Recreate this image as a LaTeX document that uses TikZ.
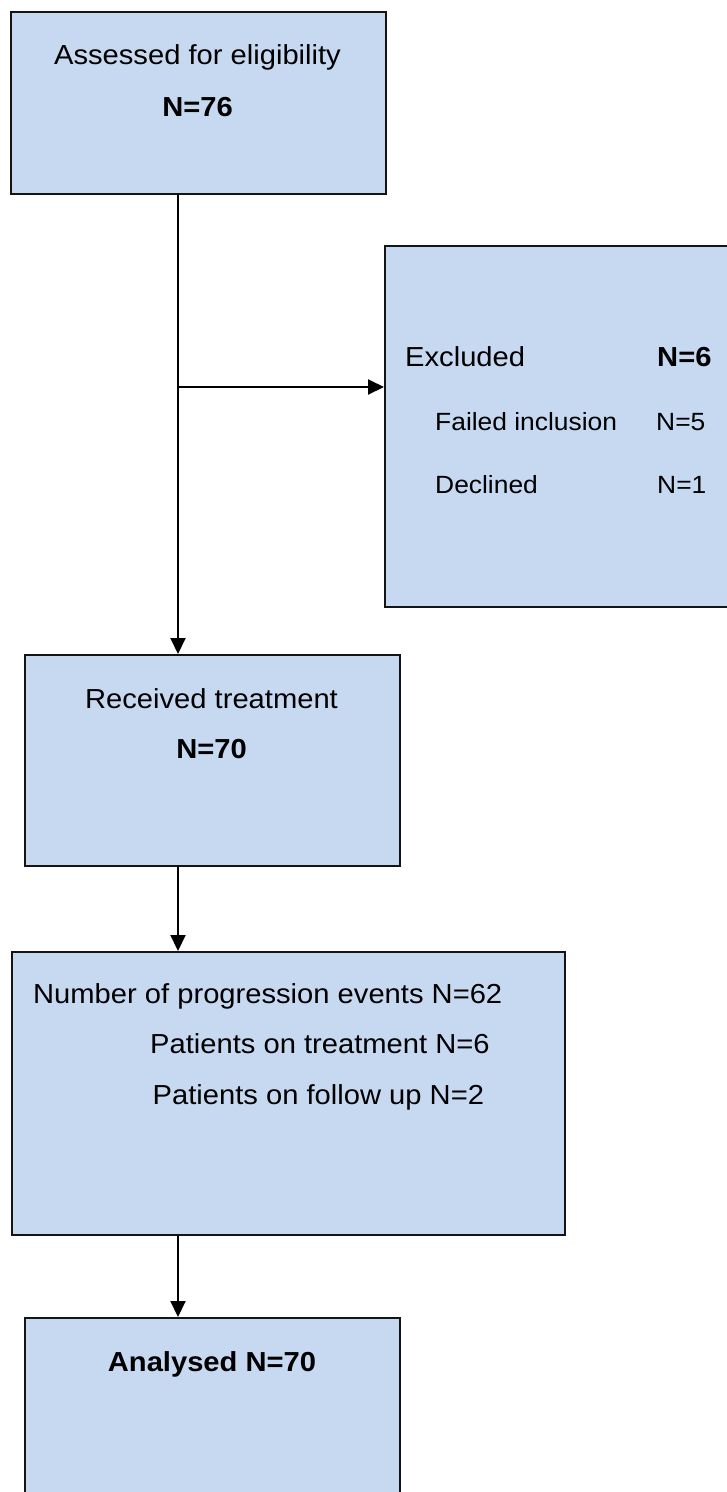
\documentclass[tikz,border=0pt]{standalone}
\usepackage{fontspec}
\setmainfont{Liberation Sans}[FakeStretch=1.06]
\usetikzlibrary{arrows.meta}
\definecolor{boxfill}{HTML}{C6D9F1}
\definecolor{edgecol}{HTML}{141414}
\begin{document}
\begin{tikzpicture}[x=1pt,y=-1pt,
  flowbox/.style={draw=edgecol, line width=2pt, fill=boxfill, inner sep=0pt, anchor=north west},
  bigtxt/.style={inner sep=0pt, font=\fontsize{27.5}{31}\selectfont},
  smalltxt/.style={inner sep=0pt, font=\fontsize{24.9}{28}\selectfont},
  flowarrow/.style={draw=black, line width=2pt, -{Triangle[length=16pt,width=15pt]}}
]
\useasboundingbox (0,0) rectangle (727,1492);
\clip (0,0) rectangle (727,1492);
\fill[white] (0,0) rectangle (727,1492);

% boxes
\node[flowbox, minimum width=375pt, minimum height=182pt] (b1) at (10,11) {};
\node[flowbox, minimum width=350pt, minimum height=361pt] (b2) at (384,245) {};
\node[flowbox, minimum width=375pt, minimum height=211pt] (b3) at (24,654) {};
\node[flowbox, minimum width=553pt, minimum height=283pt] (b4) at (11,951) {};
\node[flowbox, minimum width=375pt, minimum height=190pt] (b5) at (24,1317) {};

% texts
\node[bigtxt, anchor=base] (t1a) at (197.5,64) {Assessed for eligibility};
\node[bigtxt, anchor=base] (t1b) at (197.5,116) {\bfseries N=76};

\node[bigtxt, anchor=base west] (t2a) at (405,366) {Excluded};
\node[bigtxt, anchor=base west] (t2b) at (657,366) {\bfseries N=6};
\node[smalltxt, anchor=base west] (t2c) at (435,430) {Failed inclusion};
\node[smalltxt, anchor=base west] (t2d) at (656,430) {N=5};
\node[smalltxt, anchor=base west] (t2e) at (435,493) {Declined};
\node[smalltxt, anchor=base west] (t2f) at (657,493) {N=1};

\node[bigtxt, anchor=base] (t3a) at (211.5,708) {Received treatment};
\node[bigtxt, anchor=base] (t3b) at (211.5,758) {\bfseries N=70};

\node[bigtxt, anchor=base west] (t4a) at (33,1003) {Number of progression events N=62};
\node[bigtxt, anchor=base west] (t4b) at (150,1053) {Patients on treatment N=6};
\node[bigtxt, anchor=base west] (t4c) at (152.5,1104) {Patients on follow up N=2};

\node[bigtxt, anchor=base] (t5a) at (212,1371) {\bfseries Analysed N=70};

% connectors
\coordinate (spine) at (178,0);
\coordinate (branch) at (178,387);
\draw[flowarrow] (b1.south -| spine) -- (b3.north -| spine);
\draw[flowarrow] (branch) -- (branch -| b2.west);
\draw[flowarrow] (b3.south -| spine) -- (b4.north -| spine);
\draw[flowarrow] (b4.south -| spine) -- (b5.north -| spine);
\end{tikzpicture}
\end{document}
